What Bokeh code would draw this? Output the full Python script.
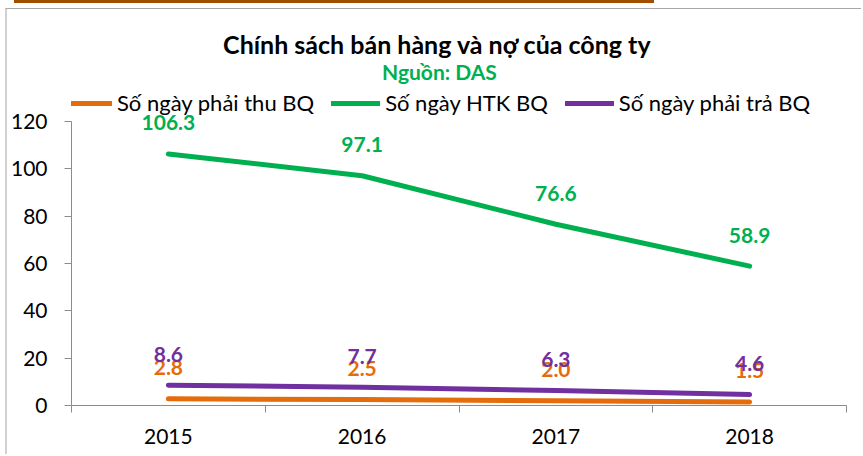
import numpy as np
from bokeh.plotting import figure
from bokeh.layouts import column
from bokeh.models import (Range1d, FixedTicker, Legend, LegendItem, Label, ColumnDataSource, Div)
from bokeh.core.properties import value
from bokeh.embed import file_html
from bokeh.resources import INLINE

# ---- data ----
years = ["2015", "2016", "2017", "2018"]
receivable_days = [2.8, 2.5, 2.0, 1.5]      # Số ngày phải thu BQ
inventory_days = [106.3, 97.1, 76.6, 58.9]  # Số ngày HTK BQ
payable_days = [8.6, 7.7, 6.3, 4.6]         # Số ngày phải trả BQ
y_ticks = [0, 20, 40, 60, 80, 100, 120]

title_text = "Chính sách bán hàng và nợ của công ty"
subtitle_text = "Nguồn: DAS"
series_names = ["Số ngày phải thu BQ", "Số ngày HTK BQ", "Số ngày phải trả BQ"]
colors = ["#E46C0A", "#00B050", "#7030A0"]

FONT = "Lato"

xs = np.arange(len(years)) + 0.5

p = figure(width=856, height=446, output_backend="svg", toolbar_location=None,
           x_range=Range1d(0, len(years)), y_range=Range1d(0, 166.5),
           min_border_left=62, min_border_right=17, min_border_top=2,
           min_border_bottom=50)
p.margin = (5, 0, 0, 5)
p.styles = {"border-top": "1px solid #a6a6a6", "border-left": "2px solid #d0d0d0"}
p.title.text = ""
p.outline_line_color = None
p.xgrid.grid_line_color = None
p.ygrid.grid_line_color = None

# y axis
p.yaxis.ticker = FixedTicker(ticks=y_ticks)
p.yaxis.bounds = (y_ticks[0], y_ticks[-1])
p.yaxis.axis_line_color = "#8c8c8c"
p.yaxis.major_tick_line_color = "#8c8c8c"
p.yaxis.major_tick_out = 7
p.yaxis.major_tick_in = 0
p.yaxis.minor_tick_line_color = None
p.yaxis.major_label_text_font = FONT
p.yaxis.major_label_text_font_size = "21px"
p.yaxis.major_label_text_color = "#000000"
p.yaxis.major_label_standoff = 17

# x axis: labels at category centres, ticks at category boundaries
p.xaxis.ticker = FixedTicker(ticks=list(xs), minor_ticks=list(range(len(years) + 1)))
p.xaxis.major_label_overrides = {float(x): y for x, y in zip(xs, years)}
p.xaxis.axis_line_color = "#8c8c8c"
p.xaxis.major_tick_line_color = None
p.xaxis.minor_tick_line_color = "#8c8c8c"
p.xaxis.minor_tick_out = 7
p.xaxis.minor_tick_in = 0
p.xaxis.major_label_text_font = FONT
p.xaxis.major_label_text_font_size = "21px"
p.xaxis.major_label_text_color = "#000000"
p.xaxis.major_label_standoff = 16

series = [receivable_days, inventory_days, payable_days]
renderers = []
for vals, col in zip(series, colors):
    r = p.line(xs, vals, line_color=col, line_width=5, line_cap="round")
    renderers.append(r)

# data labels
for vals, col in zip([inventory_days, receivable_days, payable_days],
                     [colors[1], colors[0], colors[2]]):
    src = ColumnDataSource(dict(x=xs, y=vals, t=["%.1f" % v for v in vals]))
    p.text("x", "y", text="t", source=src, text_color=col,
           text_font=value(FONT), text_font_style="bold", text_font_size="21px",
           text_align="center", text_baseline="middle", y_offset=-31)

legend = Legend(items=[LegendItem(label=n, renderers=[r]) for n, r in zip(series_names, renderers)],
                orientation="horizontal", location=(-8, 289),
                label_text_font=FONT, label_text_font_size="22px", label_text_color="#000000",
                glyph_width=49, glyph_height=24, label_height=24, label_standoff=5,
                spacing=17, padding=0, margin=0, border_line_color=None,
                background_fill_alpha=0)
p.add_layout(legend, "center")

p.add_layout(Label(x=366, y=362, x_units="screen", y_units="screen", text=title_text,
                   text_font=FONT, text_font_style="bold", text_font_size="25px",
                   text_align="center", text_baseline="middle", text_color="#000000"))
p.add_layout(Label(x=368, y=334, x_units="screen", y_units="screen", text=subtitle_text,
                   text_font=FONT, text_font_style="bold", text_font_size="21px",
                   text_align="center", text_baseline="middle", text_color="#00B050"))

bar = Div(text="", width=640, height=3, margin=(0, 0, 0, 14),
          styles={"background-color": "#A04F00"})

layout = column(bar, p, spacing=0)
open("out.html", "w").write(file_html(layout, INLINE))
